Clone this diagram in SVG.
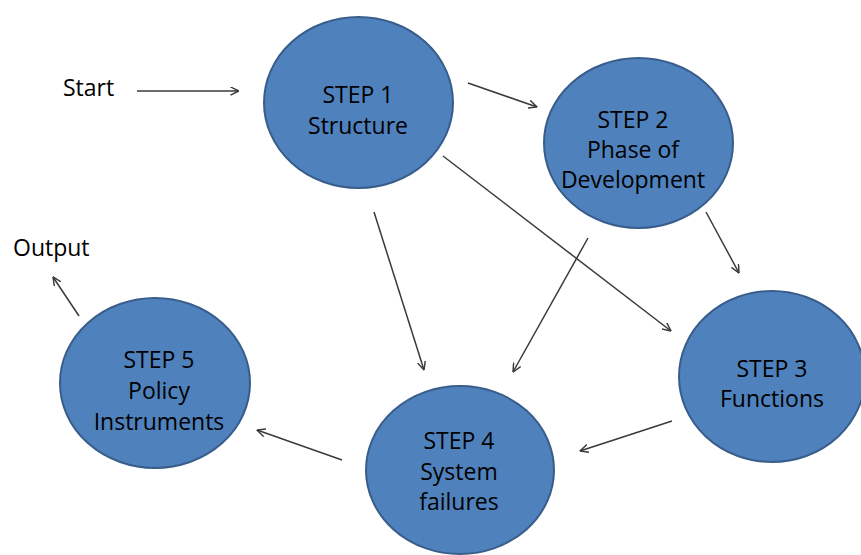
<svg xmlns="http://www.w3.org/2000/svg" width="861" height="555" viewBox="0 0 861 555">
<style>
.node ellipse{fill:#4F81BD;stroke:#385D8A;stroke-width:2}
text{font-family:"Open Sans","Liberation Sans",sans-serif;font-size:23px;fill:#000}
.node text{text-anchor:middle}
.conn line{stroke:#3a3a3a;stroke-width:1.5;fill:none;marker-end:url(#arr)}
</style>
<defs>
<marker id="arr" viewBox="0 0 10 10" refX="9.5" refY="5" markerWidth="9" markerHeight="9" markerUnits="userSpaceOnUse" orient="auto">
<path d="M0,0.5 L9.5,5 L0,9.5" fill="none" stroke="#3a3a3a" stroke-width="1.6"/>
</marker>
</defs>
<rect width="861" height="555" fill="#fff"/>
<g class="conn" id="connectors">
<line x1="137" y1="91" x2="239" y2="91"/>
<line x1="468" y1="83" x2="537" y2="107"/>
<line x1="443" y1="156" x2="671" y2="331"/>
<line x1="374" y1="212" x2="424" y2="370"/>
<line x1="588" y1="238" x2="513" y2="372"/>
<line x1="706" y1="212" x2="739" y2="273"/>
<line x1="672" y1="421" x2="580" y2="451"/>
<line x1="342" y1="460" x2="257" y2="430"/>
<line x1="79" y1="316" x2="53" y2="277"/>
</g>
<g id="start"><text x="63" y="96">Start</text></g>
<g id="output"><text x="13" y="256">Output</text></g>
<g class="node" id="step1">
<ellipse cx="358.5" cy="102.5" rx="94.5" ry="85.5"/>
<text x="358" y="103">STEP 1</text>
<text x="358" y="134">Structure</text>
</g>
<g class="node" id="step2">
<ellipse cx="638.5" cy="143" rx="94.5" ry="85"/>
<text x="633" y="128">STEP 2</text>
<text x="633" y="158">Phase of</text>
<text x="633" y="188">Development</text>
</g>
<g class="node" id="step3">
<ellipse cx="772" cy="376.5" rx="93" ry="85.5"/>
<text x="772" y="377">STEP 3</text>
<text x="772" y="407">Functions</text>
</g>
<g class="node" id="step4">
<ellipse cx="460" cy="470" rx="94" ry="84"/>
<text x="459" y="449">STEP 4</text>
<text x="459" y="480">System</text>
<text x="459" y="510">failures</text>
</g>
<g class="node" id="step5">
<ellipse cx="155" cy="383" rx="95" ry="85"/>
<text x="159" y="368">STEP 5</text>
<text x="159" y="399">Policy</text>
<text x="159" y="430">Instruments</text>
</g>
</svg>
